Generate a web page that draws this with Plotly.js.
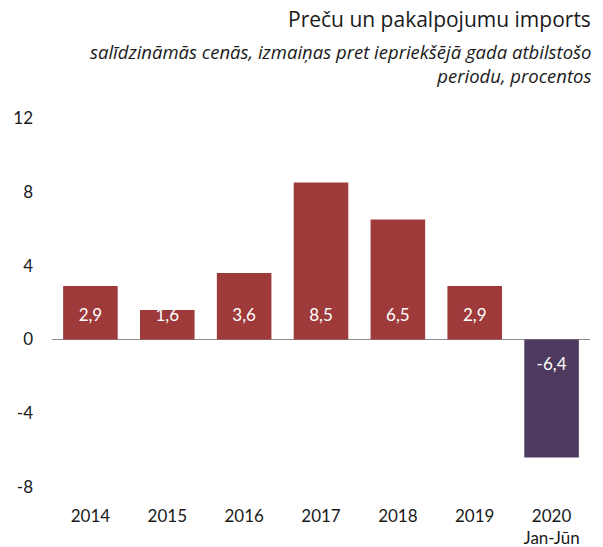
<!DOCTYPE html>
<html>
<head>
<meta charset="utf-8">
<script src="https://cdn.plot.ly/plotly-3.0.1.min.js"></script>
<style>html,body{margin:0;padding:0;background:#fff;}#chart{width:603px;height:547px;}</style>
</head>
<body>
<div id="chart"></div>
<script>
const categories = ["2014", "2015", "2016", "2017", "2018", "2019", "2020<br>Jan-Jūn"];
const values = [2.9, 1.6, 3.6, 8.5, 6.5, 2.9, -6.4];
const valueLabels = ["2,9", "1,6", "3,6", "8,5", "6,5", "2,9", "-6,4"];
const yTicks = [-8, -4, 0, 4, 8, 12];
const yTickLabels = ["-8", "-4", "0", "4", "8", "12"];
const titleText = "Preču un pakalpojumu imports";
const subtitleText = "salīdzināmās cenās, izmaiņas pret iepriekšējā gada atbilstošo<br>periodu, procentos";

const FONT = "Lato, 'Open Sans', sans-serif";
const TFONT = "'Open Sans', Lato, sans-serif";
const colors = values.map((v, i) => i === values.length - 1 ? "#4d3a5e" : "#9e3b3a");

const bars = {
  type: "bar",
  x: categories,
  y: values,
  marker: {color: colors},
  hoverinfo: "skip",
  showlegend: false
};
const labels = {
  type: "scatter",
  mode: "text",
  x: categories,
  y: values.map(v => v >= 0 ? 1.25 : -1.45),
  text: valueLabels,
  textposition: "middle center",
  textfont: {family: FONT, size: 17, color: "#ffffff"},
  hoverinfo: "skip",
  showlegend: false
};

const layout = {
  width: 603, height: 547,
  margin: {l: 52, r: 13, t: 118, b: 60},
  paper_bgcolor: "#fff", plot_bgcolor: "#fff",
  font: {family: FONT, size: 16, color: "#1a1a1a"},
  bargap: 0.29,
  xaxis: {
    type: "category",
    showgrid: false, zeroline: false, showline: false,
    ticks: "", ticklabelstandoff: 17,
    tickfont: {family: FONT, size: 17, color: "#1a1a1a"}
  },
  yaxis: {
    range: [-8, 12],
    tickvals: yTicks,
    ticktext: yTickLabels,
    showgrid: false, zeroline: true, zerolinecolor: "#8c8c8c", zerolinewidth: 1.5,
    showline: false, ticks: "", ticklabelstandoff: 18,
    tickfont: {family: FONT, size: 17, color: "#1a1a1a"}
  },
  annotations: [
    {xref: "paper", yref: "paper", x: 1.005, y: 1, yshift: 118 - 3, xanchor: "right", yanchor: "top",
     text: titleText, showarrow: false, align: "right",
     font: {family: TFONT, size: 21, color: "#1a1a1a"}},
    {xref: "paper", yref: "paper", x: 1.005, y: 1, yshift: 118 - 37, xanchor: "right", yanchor: "top",
     text: "<i>" + subtitleText + "</i>", showarrow: false, align: "right",
     font: {family: TFONT, size: 18.5, color: "#1a1a1a"}}
  ]
};

Plotly.newPlot("chart", [bars, labels], layout, {displayModeBar: false, staticPlot: true});
</script>
</body>
</html>
